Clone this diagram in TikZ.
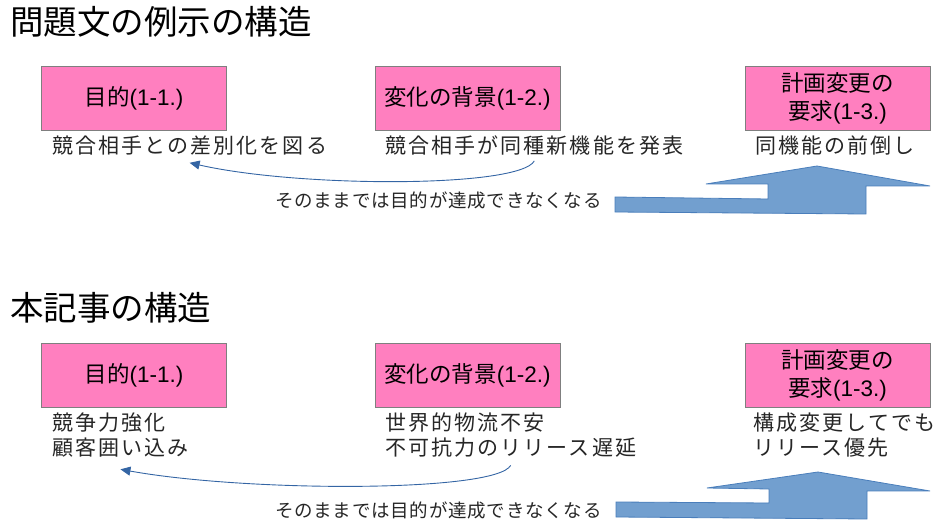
\documentclass[tikz,border=0pt]{standalone}
\usepackage{fontspec}
\setmainfont{Noto Sans CJK JP}
\newfontfamily\subfont[LetterSpace=10]{Noto Sans CJK JP}
\newfontfamily\notefont[LetterSpace=4]{Noto Sans CJK JP}
\newfontfamily\latfont{Liberation Sans}
\usetikzlibrary{arrows.meta,positioning}
\definecolor{boxpink}{HTML}{FF7FBF}
\definecolor{boxline}{HTML}{7F7F7F}
\definecolor{arrowfill}{HTML}{729FCF}
\definecolor{arrowline}{HTML}{4A7EBB}
\definecolor{curveblue}{HTML}{3465A4}
\definecolor{inkdark}{HTML}{262626}

\begin{document}
\begin{tikzpicture}[x=1pt, y=-1pt,
  stage/.style={draw=boxline, fill=boxpink, minimum width=185pt, minimum height=64pt, inner sep=2pt, align=center, font=\fontsize{22.5}{28}\selectfont},
  title/.style={anchor=west, inner sep=0pt, font=\fontsize{33.5}{36}\selectfont},
  desc/.style={anchor=north west, inner sep=0pt, align=left, text=inkdark, font=\subfont\fontsize{21}{24.5}\selectfont},
  note/.style={anchor=west, inner sep=0pt, text=inkdark, font=\notefont\fontsize{18.5}{20}\selectfont},
  curvearrow/.style={-{Triangle[length=10pt,width=9pt]}, curveblue, line width=0.9pt},
  bigarrow/.style={draw=arrowline, fill=arrowfill, line width=0.8pt, line join=miter}]
\useasboundingbox (0,0) rectangle (951,526);
% upper half
\node[title] (title1) at (10,22) {問題文の例示の構造};
\node[stage] (goal1) at (134,98) {目的{\latfont(1-1.)}};
\node[stage] (bg1) at (467.5,98) {変化の背景{\latfont(1-2.)}};
\node[stage] (req1) at (837.5,98) {計画変更の\\要求{\latfont(1-3.)}};
\node[desc] (goaltxt1) at (52,136) {競合相手との差別化を図る};
\node[desc] (bgtxt1) at (385,136) {競合相手が同種新機能を発表};
\node[desc] (reqtxt1) at (755,136) {同機能の前倒し};
\draw[curvearrow] ([yshift=-5pt]bgtxt1.south) .. controls +(-15,27) and +(110,25) .. ([yshift=-7pt]goaltxt1.south);
\node[note] (note1) at (275,200) {そのままでは目的が達成できなくなる};
\draw[bigarrow] (615,197) -- (768,199) -- (768,184) -- (706,184) -- (817,166) -- (930,186) -- (866,186) -- (866,214) -- (615,212) -- cycle;
% lower half
\node[title] (title2) at (10,308) {本記事の構造};
\node[stage] (goal2) at (134,375.5) {目的{\latfont(1-1.)}};
\node[stage] (bg2) at (467.5,375.5) {変化の背景{\latfont(1-2.)}};
\node[stage] (req2) at (837.5,375.5) {計画変更の\\要求{\latfont(1-3.)}};
\node[desc] (goaltxt2) at (52,413) {競争力強化\\顧客囲い込み};
\node[desc] (bgtxt2) at (385,413) {世界的物流不安\\不可抗力のリリース遅延};
\node[desc] (reqtxt2) at (753,413) {構成変更してでも\\リリース優先};
\draw[curvearrow] ([yshift=-8pt]bgtxt2.south) .. controls +(-15,27) and +(128,23) .. ([yshift=-12pt]goaltxt2.south);
\node[note] (note2) at (275,510) {そのままでは目的が達成できなくなる};
\draw[bigarrow] (616,502) -- (769,503) -- (769,489) -- (707,488) -- (818,472) -- (930,491) -- (867,491) -- (867,519) -- (616,517) -- cycle;
\end{tikzpicture}
\end{document}
